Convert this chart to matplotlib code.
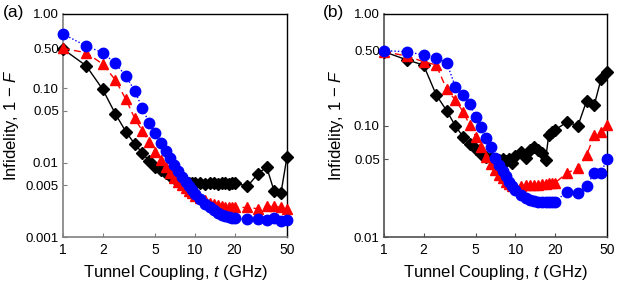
import matplotlib
matplotlib.use("Agg")
import matplotlib.pyplot as plt

plt.rcParams["font.family"] = ["Liberation Sans", "DejaVu Sans"]
plt.rcParams["mathtext.fontset"] = "custom"
plt.rcParams["mathtext.rm"] = "Liberation Sans"
plt.rcParams["mathtext.it"] = "Liberation Sans:italic"

# tunnel coupling values (GHz)
t_vals = [1, 1.5, 2, 2.5, 3, 3.5, 4, 4.5, 5, 5.5, 6, 6.5, 7, 7.5, 8, 8.5, 9, 9.5,
          10, 11, 12, 13, 14, 15, 16, 17, 18, 19, 20, 25, 30, 35, 40, 45, 50]

# panel (a)
a_black = [0.338, 0.201, 0.097, 0.0451, 0.0261, 0.0178, 0.0135, 0.0105, 0.0088,
           0.0080, 0.0072, 0.0066, 0.0062, 0.0058, 0.0055, 0.0054, 0.0053, 0.0053,
           0.0053, 0.0053, 0.0052, 0.0053, 0.0053, 0.0052, 0.0053, 0.0053, 0.0052,
           0.0053, 0.0054, 0.0048, 0.0070, 0.0088, 0.0041, 0.0039, 0.0120]
a_red = [0.345, 0.301, 0.212, 0.129, 0.0711, 0.0395, 0.0266, 0.0191, 0.0140,
         0.0108, 0.0088, 0.0073, 0.0063, 0.0055, 0.0050, 0.0045, 0.0042, 0.0039,
         0.0036, 0.0033, 0.0031, 0.0029, 0.0028, 0.0027, 0.0026, 0.00255, 0.0025,
         0.0025, 0.0025, 0.0025, 0.0024, 0.0026, 0.0026, 0.0025, 0.0024]
a_blue = [0.538, 0.371, 0.301, 0.217, 0.146, 0.0929, 0.0538, 0.0344, 0.0248,
          0.0185, 0.0145, 0.0114, 0.0093, 0.0078, 0.0065, 0.0055, 0.0048, 0.0043,
          0.0038, 0.0032, 0.0028, 0.0025, 0.0023, 0.0021, 0.0020, 0.0019, 0.00184,
          0.00181, 0.00178, 0.00173, 0.00173, 0.00169, 0.00178, 0.00166, 0.00169]

# panel (b)
b_black = [0.459, 0.387, 0.349, 0.188, 0.136, 0.099, 0.0794, 0.0682, 0.0611,
           0.0555, 0.0524, 0.0508, 0.0498, 0.0491, 0.0498, 0.0484, 0.0503, 0.0464,
           0.0534, 0.0582, 0.0508, 0.0603, 0.0645, 0.0600, 0.0563, 0.0491, 0.0822,
           0.087, 0.0911, 0.108, 0.099, 0.167, 0.153, 0.260, 0.304]
b_red = [0.459, 0.420, 0.373, 0.349, 0.211, 0.169, 0.133, 0.101, 0.0794,
         0.0637, 0.0525, 0.0451, 0.0399, 0.0360, 0.0336, 0.0313, 0.0299, 0.0288,
         0.0283, 0.0285, 0.0290, 0.0292, 0.0295, 0.0293, 0.0298, 0.0300, 0.0305,
         0.0308, 0.0305, 0.0377, 0.0413, 0.0544, 0.0822, 0.0880, 0.101]
b_blue = [0.469, 0.459, 0.429, 0.401, 0.366, 0.223, 0.188, 0.156, 0.120,
          0.0964, 0.0768, 0.0637, 0.0508, 0.0442, 0.0393, 0.0352, 0.0313, 0.0287,
          0.0264, 0.0238, 0.0222, 0.0215, 0.0210, 0.0207, 0.0206, 0.0206, 0.0206,
          0.0207, 0.0208, 0.0255, 0.0247, 0.0287, 0.0377, 0.0377, 0.0498]

x_ticks = [1, 2, 5, 10, 20, 50]
x_labels = ["1", "2", "5", "10", "20", "50"]
# the "0.50" tick in the reference sits off its true log position
a_yticks = [1, 0.347, 0.1, 0.05, 0.01, 0.005, 0.001]
a_ylabels = ["1.00", "0.50", "0.10", "0.05", "0.01", "0.005", "0.001"]
b_yticks = [1, 0.47, 0.1, 0.05, 0.01]
b_ylabels = ["1.00", "0.50", "0.10", "0.05", "0.01"]


def draw_panel(ax, black, red, blue, ylim, yticks, ylabels, spine_color, label_x):
    ax.plot(t_vals, black, color="black", ls="-", lw=1, marker="D", ms=6,
            clip_on=False, zorder=3)
    ax.plot(t_vals, red, color="#ff0000", ls=(0, (5, 3)), lw=1, marker="^", ms=7.5,
            clip_on=False, zorder=4)
    ax.plot(t_vals, blue, color="#0000ff", ls=(0, (1, 1.5)), lw=1, marker="o", ms=7.5,
            clip_on=False, zorder=5)

    ax.set_xscale("log")
    ax.set_yscale("log")
    ax.set_xlim(1, 50)
    ax.set_ylim(*ylim)
    ax.set_xticks(x_ticks)
    ax.set_xticklabels(x_labels)
    ax.set_yticks(yticks)
    ax.set_yticklabels(ylabels)
    ax.minorticks_off()
    ax.tick_params(direction="in", length=3, width=0.8, color=spine_color,
                   labelsize=9.5, pad=3)
    ax.tick_params(axis="x", pad=4, labelsize=10)

    ax.spines["left"].set_color(spine_color)
    ax.spines["bottom"].set_color(spine_color)
    ax.spines["left"].set_linewidth(1.2)
    ax.spines["bottom"].set_linewidth(1.2)
    ax.spines["top"].set_linewidth(1)
    ax.spines["right"].set_linewidth(1)

    ax.set_xlabel("Tunnel Coupling, $t$ (GHz)", fontsize=12)
    ax.xaxis.set_label_coords(0.5, -0.115)
    ax.set_ylabel("Infidelity, 1 \u2212 $F$", fontsize=12, va="center")
    ax.yaxis.set_label_coords(label_x, 0.5)


fig = plt.figure(figsize=(6.23, 2.83), dpi=100)
ax_a = fig.add_axes([63 / 623, 46 / 283, 224 / 623, 223 / 283])
ax_b = fig.add_axes([384 / 623, 46 / 283, 223 / 623, 223 / 283])

draw_panel(ax_a, a_black, a_red, a_blue, (0.001, 1), a_yticks, a_ylabels,
           "#808080", -0.228)
draw_panel(ax_b, b_black, b_red, b_blue, (0.01, 1), b_yticks, b_ylabels,
           "#505050", -0.215)

fig.text(3 / 623, 1 - 13 / 283, "(a)", fontsize=12.5, va="center", ha="left")
fig.text(323 / 623, 1 - 13 / 283, "(b)", fontsize=12.5, va="center", ha="left")

fig.savefig("out.png", dpi=100)
